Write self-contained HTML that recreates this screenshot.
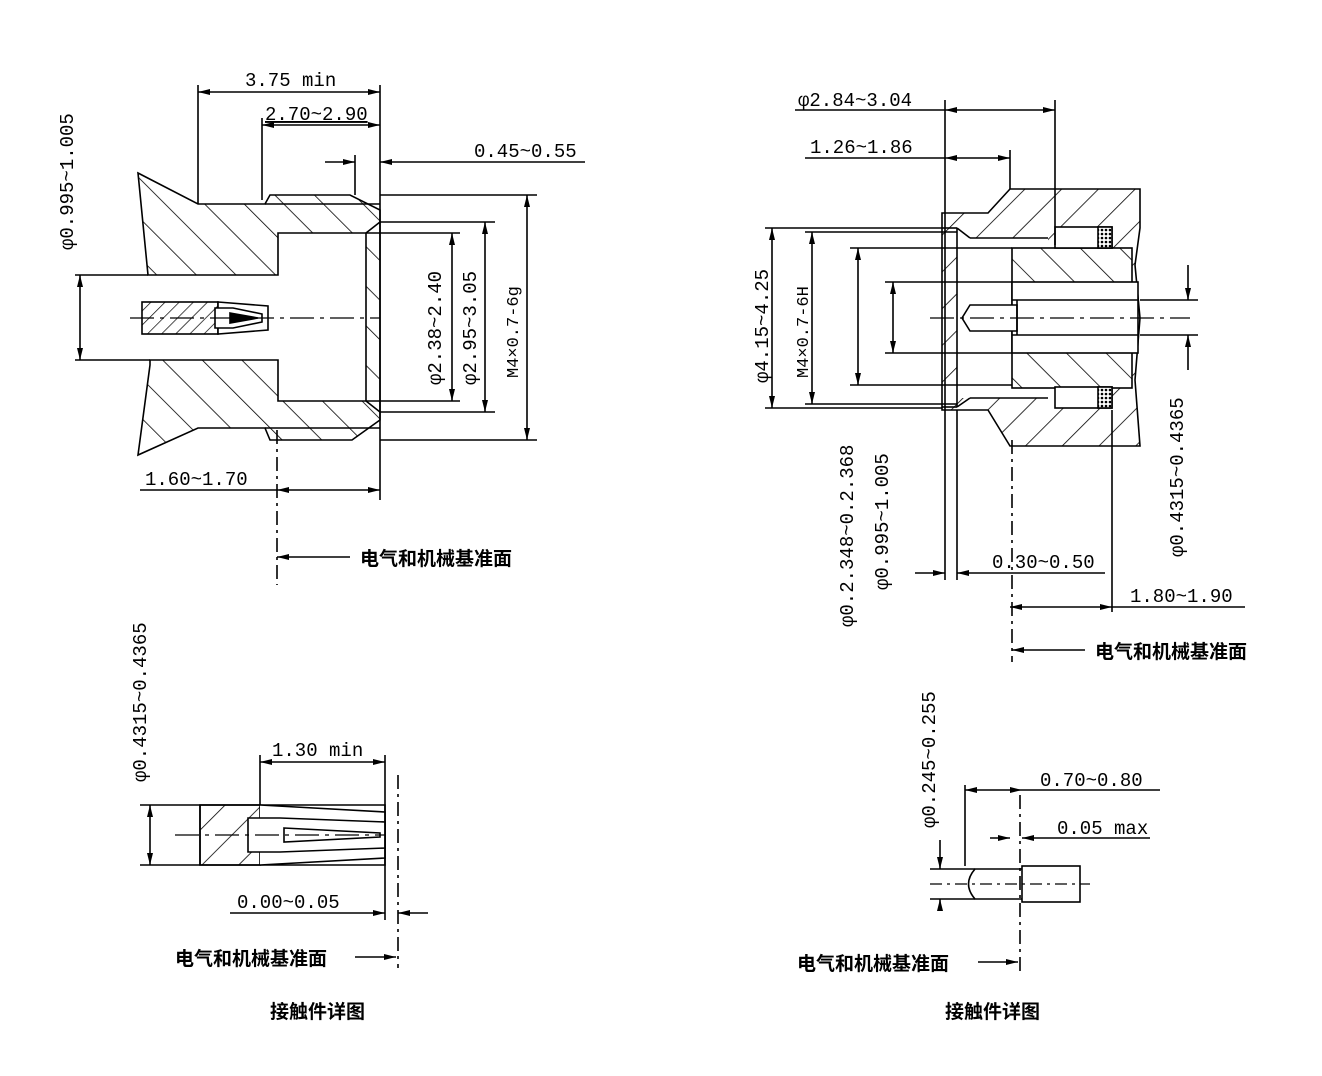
<!DOCTYPE html>
<html><head><meta charset="utf-8"><style>
html,body{margin:0;padding:0;background:#fff}
svg{display:block}
text{font-family:"Liberation Mono","DejaVu Sans Mono",monospace;font-size:19px;fill:#000}
.c{font-family:"Liberation Sans","Noto Sans CJK SC",sans-serif;font-size:19px;font-weight:bold}
</style></head><body>
<svg width="1322" height="1076" viewBox="0 0 1322 1076" xmlns="http://www.w3.org/2000/svg">
<defs>
<pattern id="h" patternUnits="userSpaceOnUse" width="28" height="28" patternTransform="rotate(-45)"><line x1="0" y1="0" x2="0" y2="28" stroke="#000" stroke-width="1.6"/></pattern>
<pattern id="hr" patternUnits="userSpaceOnUse" width="26" height="26" patternTransform="rotate(45)"><line x1="0" y1="0" x2="0" y2="26" stroke="#000" stroke-width="1.6"/></pattern>
<pattern id="hs" patternUnits="userSpaceOnUse" width="10" height="10" patternTransform="rotate(45)"><line x1="0" y1="0" x2="0" y2="10" stroke="#000" stroke-width="1.4"/></pattern>
<pattern id="dots" patternUnits="userSpaceOnUse" width="4" height="4"><rect width="4" height="4" fill="#fff"/><circle cx="2" cy="2" r="1.3" fill="#000"/></pattern>
<marker id="a" viewBox="0 0 12 6" refX="12" refY="3" markerWidth="12" markerHeight="6" orient="auto-start-reverse" markerUnits="userSpaceOnUse"><path d="M0,0 L12,3 L0,6 z" fill="#000"/></marker>
</defs>
<g stroke="#000" stroke-width="1.6" fill="none">
<!-- ===== LEFT TOP ===== -->
<path d="M138,173 L198,204 L265,204 L270,195 L350,195 L380,210 L380,420 L352,440 L270,440 L265,428 L198,428 L138,455 L150,365 L150,360 L278,360 L278,401 L366,401 L366,233 L278,233 L278,275 L148,275 L138,173 z" fill="url(#h)"/>
<line x1="265" y1="204" x2="380" y2="204"/><line x1="265" y1="428" x2="380" y2="428"/>
<line x1="366" y1="233" x2="380" y2="222"/><line x1="366" y1="401" x2="380" y2="412"/>
<rect x="142" y="302" width="76" height="32" fill="url(#hs)"/>
<path d="M218,302 L268,306 L268,330 L218,334 z" fill="#fff"/>
<path d="M215,308 L233,308 L262,314 L262,322 L233,328 L215,328 z" fill="#fff"/>
<path d="M230,313 L258,318 L230,323 z" fill="#000"/>
<line x1="130" y1="318" x2="380" y2="318" stroke-dasharray="24,6,4,6" stroke-width="1.2"/>
<line x1="198" y1="85" x2="198" y2="204"/><line x1="380" y1="85" x2="380" y2="500"/>
<line x1="198" y1="92" x2="380" y2="92" marker-start="url(#a)" marker-end="url(#a)"/>
<line x1="262" y1="118" x2="262" y2="200"/>
<line x1="262" y1="125" x2="380" y2="125" marker-start="url(#a)" marker-end="url(#a)"/>
<line x1="355" y1="155" x2="355" y2="195"/>
<line x1="325" y1="162" x2="355" y2="162" marker-end="url(#a)"/>
<line x1="585" y1="162" x2="380" y2="162" marker-end="url(#a)"/>
<line x1="75" y1="275" x2="148" y2="275"/><line x1="75" y1="360" x2="150" y2="360"/>
<line x1="80" y1="275" x2="80" y2="360" marker-start="url(#a)" marker-end="url(#a)"/>
<line x1="366" y1="233" x2="460" y2="233"/><line x1="366" y1="401" x2="460" y2="401"/>
<line x1="452" y1="233" x2="452" y2="401" marker-start="url(#a)" marker-end="url(#a)"/>
<line x1="380" y1="222" x2="495" y2="222"/><line x1="380" y1="412" x2="495" y2="412"/>
<line x1="485" y1="222" x2="485" y2="412" marker-start="url(#a)" marker-end="url(#a)"/>
<line x1="380" y1="195" x2="537" y2="195"/><line x1="380" y1="440" x2="537" y2="440"/>
<line x1="527" y1="195" x2="527" y2="440" marker-start="url(#a)" marker-end="url(#a)"/>
<line x1="140" y1="490" x2="277" y2="490"/>
<line x1="277" y1="490" x2="380" y2="490" marker-start="url(#a)" marker-end="url(#a)"/>
<line x1="277" y1="430" x2="277" y2="585" stroke-dasharray="14,5,3,5"/>
<line x1="350" y1="557" x2="277" y2="557" marker-end="url(#a)"/>
<!-- ===== LEFT BOTTOM ===== -->
<path d="M140,805 L385,805 L385,865 L140,865" />
<rect x="200" y="805" width="60" height="60" fill="url(#hr)"/>
<path d="M260,805 L385,812 L385,858 L260,865" fill="#fff"/>
<path d="M248,818 L280,818 L385,822 L385,848 L280,852 L248,852 z" fill="#fff"/>
<path d="M284,828 L380,833 L380,837 L284,842 z"/>
<line x1="200" y1="805" x2="200" y2="865"/>
<line x1="175" y1="835" x2="385" y2="835" stroke-dasharray="24,6,4,6" stroke-width="1.2"/>
<line x1="150" y1="805" x2="150" y2="865" marker-start="url(#a)" marker-end="url(#a)"/>
<line x1="260" y1="755" x2="260" y2="805"/><line x1="385" y1="755" x2="385" y2="920"/>
<line x1="260" y1="762" x2="385" y2="762" marker-start="url(#a)" marker-end="url(#a)"/>
<line x1="398" y1="775" x2="398" y2="968" stroke-dasharray="14,5,3,5"/>
<line x1="230" y1="913" x2="385" y2="913" marker-end="url(#a)"/>
<line x1="428" y1="913" x2="398" y2="913" marker-end="url(#a)"/>
<line x1="355" y1="957" x2="396" y2="957" marker-end="url(#a)"/>
<!-- ===== RIGHT TOP ===== -->
<path d="M942,213 L988,213 L1010,189 L1140,189 L1140,228 L1135,265 L1140,318 L1135,380 L1140,446 L1010,446 L988,410 L942,410 z" fill="url(#hr)"/>
<rect x="957" y="238" width="91" height="160" fill="#fff" stroke="none"/>
<rect x="1012" y="248" width="120" height="140" fill="#fff" stroke="none"/>
<rect x="1012" y="248" width="120" height="140" fill="url(#h)"/>
<rect x="1012" y="282" width="126" height="71" fill="#fff"/>
<rect x="1055" y="227" width="57" height="21" fill="#fff"/><rect x="1055" y="387" width="57" height="21" fill="#fff"/>
<rect x="1098" y="227" width="14" height="21" fill="url(#dots)"/><rect x="1098" y="387" width="14" height="21" fill="url(#dots)"/>
<line x1="942" y1="228" x2="957" y2="228"/><line x1="942" y1="407" x2="957" y2="407"/>
<line x1="957" y1="228" x2="957" y2="407"/>
<line x1="957" y1="228" x2="970" y2="238"/><line x1="957" y1="407" x2="970" y2="398"/>
<line x1="970" y1="238" x2="1048" y2="238"/><line x1="970" y1="398" x2="1048" y2="398"/>
<line x1="1012" y1="300" x2="1138" y2="300"/><line x1="1012" y1="335" x2="1138" y2="335"/>
<path d="M1017,305 L970,305 L962,318 L970,331 L1017,331 z" fill="#fff"/>
<line x1="1017" y1="300" x2="1017" y2="335"/>
<line x1="930" y1="318" x2="1190" y2="318" stroke-dasharray="24,6,4,6" stroke-width="1.2"/>
<line x1="945" y1="100" x2="945" y2="580"/><line x1="1055" y1="100" x2="1055" y2="245"/>
<line x1="795" y1="110" x2="945" y2="110"/>
<line x1="945" y1="110" x2="1055" y2="110" marker-start="url(#a)" marker-end="url(#a)"/>
<line x1="1010" y1="150" x2="1010" y2="189"/>
<line x1="805" y1="158" x2="945" y2="158"/>
<line x1="945" y1="158" x2="1010" y2="158" marker-start="url(#a)" marker-end="url(#a)"/>
<line x1="765" y1="228" x2="942" y2="228"/><line x1="765" y1="408" x2="942" y2="408"/>
<line x1="772" y1="228" x2="772" y2="408" marker-start="url(#a)" marker-end="url(#a)"/>
<line x1="805" y1="232" x2="957" y2="232"/><line x1="805" y1="404" x2="957" y2="404"/>
<line x1="812" y1="232" x2="812" y2="404" marker-start="url(#a)" marker-end="url(#a)"/>
<line x1="850" y1="248" x2="1012" y2="248"/><line x1="850" y1="385" x2="1012" y2="385"/>
<line x1="858" y1="248" x2="858" y2="385" marker-start="url(#a)" marker-end="url(#a)"/>
<line x1="885" y1="282" x2="1012" y2="282"/><line x1="885" y1="353" x2="1012" y2="353"/>
<line x1="893" y1="282" x2="893" y2="353" marker-start="url(#a)" marker-end="url(#a)"/>
<line x1="1140" y1="300" x2="1198" y2="300"/><line x1="1140" y1="335" x2="1198" y2="335"/>
<line x1="1188" y1="265" x2="1188" y2="300" marker-end="url(#a)"/>
<line x1="1188" y1="370" x2="1188" y2="335" marker-end="url(#a)"/>
<line x1="957" y1="410" x2="957" y2="580"/>
<line x1="915" y1="573" x2="945" y2="573" marker-end="url(#a)"/>
<line x1="1105" y1="573" x2="957" y2="573" marker-end="url(#a)"/>
<line x1="1112" y1="410" x2="1112" y2="612"/>
<line x1="1010" y1="607" x2="1112" y2="607" marker-start="url(#a)" marker-end="url(#a)"/>
<line x1="1112" y1="607" x2="1245" y2="607"/>
<line x1="1012" y1="440" x2="1012" y2="662" stroke-dasharray="14,5,3,5"/>
<line x1="1085" y1="650" x2="1012" y2="650" marker-end="url(#a)"/>
<!-- ===== RIGHT BOTTOM ===== -->
<path d="M1022,869 L975,869 Q962,884 975,899 L1022,899"/>
<rect x="1022" y="866" width="58" height="36" fill="#fff"/>
<line x1="930" y1="884" x2="1090" y2="884" stroke-dasharray="12,5,3,5" stroke-width="1.2"/>
<line x1="930" y1="869" x2="975" y2="869"/><line x1="930" y1="899" x2="975" y2="899"/>
<line x1="940" y1="840" x2="940" y2="869" marker-end="url(#a)"/>
<line x1="940" y1="910" x2="940" y2="899" marker-end="url(#a)"/>
<line x1="965" y1="785" x2="965" y2="866"/>
<line x1="965" y1="790" x2="1022" y2="790" marker-start="url(#a)" marker-end="url(#a)"/>
<line x1="1022" y1="790" x2="1160" y2="790"/>
<line x1="1020" y1="795" x2="1020" y2="975" stroke-dasharray="14,5,3,5"/>
<line x1="990" y1="838" x2="1010" y2="838" marker-end="url(#a)"/>
<line x1="1150" y1="838" x2="1022" y2="838" marker-end="url(#a)"/>
<line x1="978" y1="962" x2="1018" y2="962" marker-end="url(#a)"/>
</g>
<text x="245" y="86">3.75 min</text>
<text x="265" y="120" text-decoration="underline">2.70~2.90</text>
<text x="474" y="157">0.45~0.55</text>
<text transform="translate(73,250) rotate(-90)">φ0.995~1.005</text>
<text transform="translate(441,385) rotate(-90)">φ2.38~2.40</text>
<text transform="translate(476,385) rotate(-90)">φ2.95~3.05</text>
<text transform="translate(518,378) rotate(-90)" style="font-size:17px">M4×0.7-6g</text>
<text x="145" y="485">1.60~1.70</text>
<text class="c" x="360" y="565">电气和机械基准面</text>
<text transform="translate(146,782) rotate(-90)">φ0.4315~0.4365</text>
<text x="272" y="756">1.30 min</text>
<text x="237" y="908">0.00~0.05</text>
<text class="c" x="175" y="965">电气和机械基准面</text>
<text class="c" x="270" y="1018">接触件详图</text>
<text x="798" y="106">φ2.84~3.04</text>
<text x="810" y="153">1.26~1.86</text>
<text transform="translate(768,383) rotate(-90)">φ4.15~4.25</text>
<text transform="translate(808,378) rotate(-90)" style="font-size:17px">M4×0.7-6H</text>
<text transform="translate(853,627) rotate(-90)">φ0.2.348~0.2.368</text>
<text transform="translate(888,590) rotate(-90)">φ0.995~1.005</text>
<text transform="translate(1183,557) rotate(-90)">φ0.4315~0.4365</text>
<text x="992" y="568">0.30~0.50</text>
<text x="1130" y="602">1.80~1.90</text>
<text class="c" x="1095" y="658">电气和机械基准面</text>
<text transform="translate(935,828) rotate(-90)">φ0.245~0.255</text>
<text x="1040" y="786">0.70~0.80</text>
<text x="1057" y="834">0.05 max</text>
<text class="c" x="797" y="970">电气和机械基准面</text>
<text class="c" x="945" y="1018">接触件详图</text>
</svg>
</body></html>
